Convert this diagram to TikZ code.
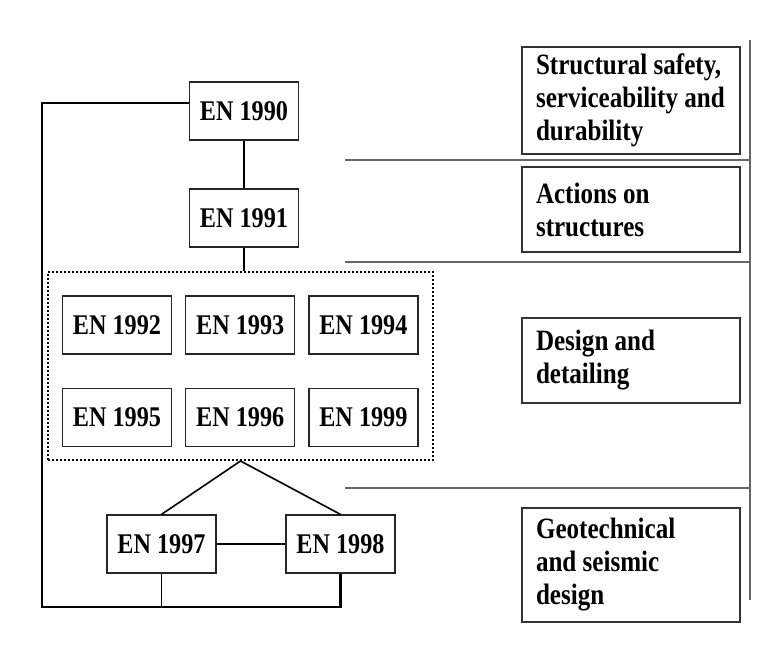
\documentclass[tikz,border=0pt]{standalone}
\usepackage{fontspec}
\setmainfont[FakeStretch=0.85]{Liberation Serif}
\usetikzlibrary{positioning}
\tikzset{
  en/.style={draw=black!85, line width=1.2pt, minimum width=109pt, minimum height=58pt,
    inner sep=0pt, font=\bfseries\fontsize{28.5}{32}\selectfont},
  part/.style={draw=black!80, line width=1.2pt, minimum width=218pt, text width=190pt,
    inner xsep=14pt, align=flush left, font=\bfseries\fontsize{29.5}{33}\selectfont},
  group/.style={draw, dotted, line width=2pt, minimum width=385pt, minimum height=188pt},
  link/.style={line width=1.6pt},
  frame/.style={line width=2.6pt},
  sep/.style={draw=black!60, line width=1.2pt},
}
\begin{document}
\begin{tikzpicture}[x=1pt, y=-1pt]
    \useasboundingbox (0,0) rectangle (768,658);
    % chain of parts
    \node[en]    (e90) at (244,111) {EN 1990};
    \node[en]    (e91) at (244,218) {EN 1991};
    \node[group] (grp) at (240.5,366) {};
    \node[en]    (e92) at (117,325) {EN 1992};
    \node[en]    (e93) [right=13pt of e92] {EN 1993};
    \node[en]    (e94) [right=13pt of e93] {EN 1994};
    \node[en]    (e95) [below=33pt of e92] {EN 1995};
    \node[en]    (e96) [below=33pt of e93] {EN 1996};
    \node[en]    (e99) [below=33pt of e94] {EN 1999};
    \node[en]    (e97) at (161.5,544) {EN 1997};
    \node[en]    (e98) at (340.5,544) {EN 1998};
    \coordinate (bot) at (42,607);

    % right column
    \node[part, minimum height=107pt] (safety) at (631,100.5)
      {Structural safety,\\serviceability and\\durability};
    \node[part, minimum height=85pt]  (actions) at (631,209.5)
      {Actions on\\structures};
    \node[part, minimum height=85pt]  (design) at (631,360.5)
      {Design and\\detailing};
    \node[part, minimum height=114pt] (geo) at (631,565)
      {Geotechnical\\and seismic\\design};

    \coordinate (rtop) at (750,40);
    \coordinate (rbot) at (750,600);
    \path[sep] (rtop) -- (rbot)
      (345,160) -- (rtop |- 0,160)
      (345,262) -- (rtop |- 0,262)
      (345,488) -- (rtop |- 0,488);

    % links
    \draw[link] (e90) -- (e91);
    \draw[link] (e91.south) -- (e91.south |- grp.north);
    \draw[link] (e97.north) -- (grp.south) -- (e98.north);
    \draw[frame] (e97) -- (e98);
    \draw[link] (e97.south) -- (e97.south |- bot);
    \draw[frame] ([yshift=8pt]e90.west) -| (bot) -- (bot -| e98) -- (e98.south);
\end{tikzpicture}
\end{document}
